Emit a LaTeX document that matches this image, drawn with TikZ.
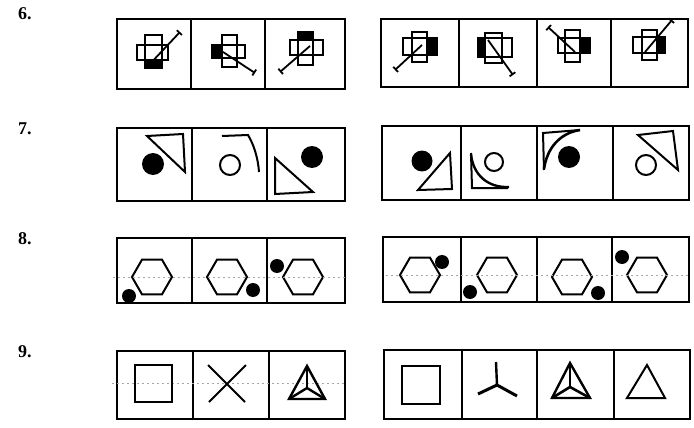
\documentclass[tikz,border=0pt]{standalone}
\usepackage{fontspec}
\setmainfont{Liberation Serif}
\usetikzlibrary{arrows.meta}
\begin{document}
\begin{tikzpicture}[x=1pt,y=-1pt,
  box/.style={line width=1.9pt},
  fig/.style={line width=2pt, line join=miter},
  stick/.style={line width=1.8pt, -{Bar[width=7pt,line width=1.8pt]}},
  lab/.style={font=\fontsize{18}{20}\selectfont\bfseries, anchor=base west, inner sep=0pt},
  faint/.style={gray!70, line width=0.5pt, dash pattern=on 2pt off 3pt}]
\useasboundingbox (0,0) rectangle (694,428);

% labels
\node[lab] (l6) at (18,20) {6.};
\node[lab] (l7) at (18,135) {7.};
\node[lab] (l8) at (18,244) {8.};
\node[lab] (l9) at (18,357) {9.};

% ---------- boxes ----------
% row 6
\draw[box] (117,19) rectangle (345,89);
\foreach \x in {191,265} \draw[box] (\x,19) -- (\x,89);
\draw[box] (381,19) rectangle (688,87);
\foreach \x in {459,537,611} \draw[box] (\x,19) -- (\x,87);
% row 7
\draw[box] (117,128) rectangle (345,201);
\foreach \x in {192,267} \draw[box] (\x,128) -- (\x,201);
\draw[box] (382,126) rectangle (689,200);
\foreach \x in {461,537,613} \draw[box] (\x,126) -- (\x,200);
% row 8
\draw[box] (117,238) rectangle (345,303);
\foreach \x in {192,267} \draw[box] (\x,238) -- (\x,303);
\draw[box] (383,237) rectangle (689,302);
\foreach \x in {461,537,612} \draw[box] (\x,237) -- (\x,302);
% row 9
\draw[box] (117,351) rectangle (345,419);
\foreach \x in {193,269} \draw[box] (\x,351) -- (\x,419);
\draw[box] (384,350) rectangle (690,419);
\foreach \x in {462,537,614} \draw[box] (\x,350) -- (\x,419);

% ---------- row 6 : crosses ----------
% L1
\fill (145,60) rectangle (162,68);
\draw[fig] (145,35) rectangle (162,68); \draw[fig] (137,45) rectangle (168,60);
\draw[stick] (148,66) -- (180,32);
% L2
\fill (212,45) rectangle (222,58);
\draw[fig] (222,35) rectangle (237,67); \draw[fig] (212,45) rectangle (245,58);
\draw[stick] (223,52) -- (255,73);
% L3
\fill (298,32) rectangle (313,40);
\draw[fig] (298,32) rectangle (313,65); \draw[fig] (290,40) rectangle (323,55);
\draw[stick] (310,46) -- (280,72);
% R1
\fill (427,38) rectangle (437,55);
\draw[fig] (412,32) rectangle (427,62); \draw[fig] (403,38) rectangle (437,55);
\draw[stick] (422,45) -- (395,70);
% R2
\fill (478,38) rectangle (485,57);
\draw[fig] (485,33) rectangle (502,63); \draw[fig] (478,38) rectangle (512,57);
\draw[stick] (488,40) -- (513,75);
% R3
\fill (580,38) rectangle (590,53);
\draw[fig] (565,30) rectangle (580,62); \draw[fig] (558,38) rectangle (590,53);
\draw[stick] (575,52) -- (548,27);
% R4
\fill (657,37) rectangle (665,53);
\draw[fig] (642,30) rectangle (657,60); \draw[fig] (633,37) rectangle (665,53);
\draw[stick] (645,52) -- (672,20);

% ---------- row 7 ----------
% L1
\fill (153,164) circle (11);
\draw[fig] (147,136) -- (183,134) -- (185,172) -- cycle;
% L2
\draw[fig] (230,165) circle (10);
\draw[fig] (222,136) -- (248,135) .. controls (254,145) and (258,158) .. (259,172);
% L3
\fill (312,157) circle (11);
\draw[fig] (275,158) -- (275,194) -- (313,192) -- cycle;
% R1
\fill (422,161) circle (10.5);
\draw[fig] (418,190) -- (450,153) -- (452,189) -- cycle;
% R2
\draw[fig] (494,162) circle (9);
\draw[fig] (471,153) -- (472,188) -- (508,188);
\draw[line width=2.4pt] (471,154) .. controls (473,175) and (488,188) .. (509,187);
% R3
\fill (569,157) circle (11);
\draw[fig] (544,170) -- (543,133) -- (580,130);
\draw[line width=2.6pt] (580,130) .. controls (560,133) and (547,148) .. (544,169);
% R4
\draw[fig] (646,165) circle (10);
\draw[fig] (638,135) -- (673,131) -- (678,170) -- cycle;

% ---------- row 8 : hexagons ----------
\foreach \cx/\cy/\bx/\by in {152/277/129/296, 227/277/253/290, 303/277/277/266,
                              420/275/442/262, 497/275/470/292, 572/277/598/293, 647/275/622/257}{
  \draw[fig] (\cx,\cy) +(0:20) -- +(60:20) -- +(120:20) -- +(180:20) -- +(240:20) -- +(300:20) -- cycle;
  \fill (\bx,\by) circle (7);
}
\draw[faint] (113,277) -- (345,277);
\draw[faint] (386,275) -- (690,275);

% ---------- row 9 ----------
\draw[faint] (112,383) -- (345,383);
% L1
\draw[fig] (135,365) rectangle (172,402);
% L2
\draw[fig] (208,365) -- (245,402);
\draw[fig] (246,365) -- (209,402);
% L3
\draw[line width=2.4pt] (307,366) -- (289,399) -- (325,399) -- cycle;
\draw[fig] (307,366) -- (307,388);
\draw[line width=2.4pt] (289,399) -- (307,388) -- (325,399);
% R1
\draw[fig] (402,366) rectangle (440,404);
% R2
\draw[line width=2.4pt] (496,362) -- (497,385);
\draw[line width=3pt] (478,394) -- (497,385) -- (517,396);
% R3
\draw[line width=2.4pt] (570,363) -- (552,398) -- (590,398) -- cycle;
\draw[fig] (570,363) -- (570,387);
\draw[line width=2.6pt] (552,398) -- (570,387) -- (590,398);
% R4
\draw[fig] (647,365) -- (627,398) -- (665,398) -- cycle;
\end{tikzpicture}
\end{document}
